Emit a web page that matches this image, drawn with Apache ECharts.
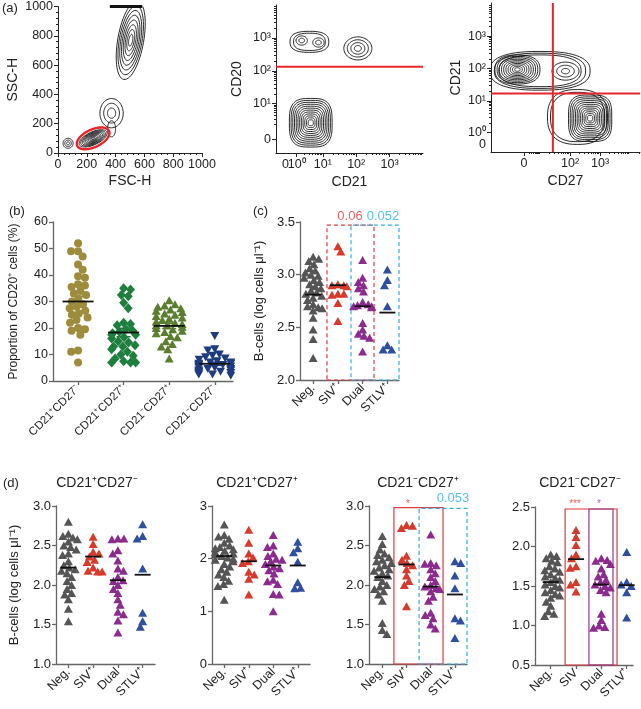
<!DOCTYPE html>
<html><head><meta charset="utf-8">
<script src="https://cdn.jsdelivr.net/npm/echarts@6/dist/echarts.min.js"></script>
<style>html,body{margin:0;padding:0;background:#fff}#c{width:641px;height:709px}</style>
</head><body><div id="c"></div><script>
// ---------------- DATA ----------------
// Panel (a) flow cytometry: tick labels (positions in display units) and populations
const fscTicks = [0, 200, 400, 600, 800, 1000];
const a2XTickPos = [0.22, 1, 2, 3];
const a2XTickText = ['10⁰', '10¹', '10²', '10³'];
const a2XZeroPos = [-0.12];
const a2YTickPos = [-0.09, 1, 2, 3];
const a2YTickText = ['0', '10¹', '10²', '10³'];
const a3XTickPos = [0.47, 2, 3];
const a3XTickText = ['0', '10²', '10³'];
const a3YTickPos = [0.02, 1, 2, 3];
const a3YTickText = ['10⁰', '10¹', '10²', '10³'];
const a3YZeroPos = [-0.34];
// population: [centreX, centreY, radiusX, radiusY, tilt, rings, squareness, innermost ring fraction]
const popsFscSsc = [
  [505, 770, 90, 272, 10, 8, 2, 0.15],
  [372, 272, 81, 100, 0, 3, 2, 0.35],
  [372, 165, 28, 55, 0, 1, 2, 1],
  [244, 100, 105, 44, -25, 9, 2, 0.12],
  [70, 66, 35, 34, 0, 3, 2, 0.3]
];
const gateFscSsc = [[244, 100, 122, 60, -25, 1, 2, 1]];
const saturationFscSsc = [[360, 1000], [585, 1000]];
const popsCd21Cd20 = [
  [0.60, 2.88, 0.58, 0.32, 0, 2, 2.6, 0.82],
  [0.37, 2.92, 0.17, 0.14, 0, 2, 2, 0.5],
  [0.87, 2.86, 0.17, 0.14, 0, 2, 2, 0.5],
  [2.05, 2.68, 0.42, 0.35, 0, 4, 2, 0.25],
  [0.64, 0.42, 0.64, 0.74, 0, 12, 3.2, 0.12]
];
const cd20Gate = 2.12;
const popsCd27Cd21 = [
  [1.0, 1.93, 1.67, 0.60, 0, 3, 2.5, 0.82],
  [0.25, 1.97, 0.75, 0.45, 0, 10, 2.5, 0.12],
  [1.85, 1.92, 0.45, 0.28, 0, 3, 2, 0.3],
  [2.25, 0.50, 1.00, 0.85, 0, 2, 2.5, 0.9],
  [2.67, 0.46, 0.72, 0.72, 0, 12, 3.5, 0.12]
];
const cd21Gate = 1.23;
const cd27Gate = 1.43;

// Panel (b)
const bCategories = ['CD21⁺CD27⁻', 'CD21⁺CD27⁺', 'CD21⁻CD27⁺', 'CD21⁻CD27⁻'];
const bCD21pCD27n = [52, 49, 49, 47, 44, 42, 39.5, 39, 36.5, 36, 35.5, 34, 33, 32.5, 31, 30, 29, 28, 27.5, 26.5, 25.5, 25, 24, 23, 22, 20, 19.5, 19, 17.5, 11.5, 11, 7];
const bCD21pCD27p = [35, 34.5, 32.5, 32, 29.5, 27.5, 22, 21.5, 21, 19.5, 19, 18.5, 18, 17.5, 17.5, 16.5, 16, 15, 14.5, 13.5, 13, 13, 12, 11, 10, 9.5, 8.5, 7.5, 7, 7, 7];
const bCD21nCD27p = [30.5, 29, 28.5, 28, 27.5, 27, 26.5, 26, 25.5, 25, 24.5, 24, 23.5, 23, 22.5, 22, 21.5, 21, 21, 20.5, 20, 19.5, 19, 18.5, 18, 17, 16.5, 15, 14, 13, 12, 8.5];
const bCD21nCD27n = [17, 12, 11.5, 10, 9.5, 9, 8.5, 8, 7.5, 7, 7, 6.5, 6.5, 6, 6, 5.5, 5.5, 5, 5, 4.5, 4.5, 4, 4, 3.5, 3.5, 3, 3, 2.5, 2.5, 2];
const bMeans = [30.0, 18.3, 20.8, 6.5];
const bSEM = [2.0, 1.6, 1.0, 0.6];

// Panel (c) and (d)
const groups = ['Neg.', 'SIV⁺', 'Dual', 'STLV⁺'];
const groupsD4 = ['Neg.', 'SIV', 'Dual', 'STLV⁺'];
const cNeg = [3.17, 3.15, 3.13, 3.10, 3.06, 3.04, 3.02, 3.00, 2.99, 2.97, 2.95, 2.93, 2.91, 2.89, 2.87, 2.85, 2.83, 2.82, 2.80, 2.78, 2.76, 2.72, 2.70, 2.69, 2.68, 2.66, 2.59, 2.48, 2.39, 2.21];
const cSIV = [3.27, 3.22, 2.91, 2.90, 2.90, 2.89, 2.82, 2.82, 2.81, 2.73, 2.56];
const cDual = [3.14, 2.97, 2.93, 2.90, 2.87, 2.84, 2.74, 2.72, 2.71, 2.70, 2.70, 2.69, 2.54, 2.48, 2.44, 2.42, 2.40, 2.27];
const cSTLV = [3.05, 2.95, 2.90, 2.70, 2.33, 2.29, 2.29];
const cMeans = [2.81, 2.90, 2.70, 2.64];

const d1Neg = [2.80, 2.65, 2.62, 2.60, 2.58, 2.55, 2.50, 2.48, 2.45, 2.40, 2.38, 2.30, 2.25, 2.22, 2.20, 2.18, 2.15, 2.10, 2.05, 2.00, 1.95, 1.90, 1.88, 1.82, 1.70, 1.54];
const d1SIV = [2.61, 2.52, 2.42, 2.40, 2.36, 2.32, 2.29, 2.22, 2.18, 2.17, 2.17];
const d1Dual = [2.59, 2.59, 2.58, 2.44, 2.40, 2.31, 2.21, 2.18, 2.10, 2.06, 2.05, 2.00, 1.95, 1.90, 1.82, 1.75, 1.66, 1.63, 1.55, 1.40];
const d1STLV = [2.77, 2.62, 2.59, 2.21, 1.65, 1.54, 1.47];
const d1Means = [2.22, 2.36, 2.06, 2.13];

const d2Neg = [2.65, 2.45, 2.42, 2.38, 2.30, 2.25, 2.22, 2.20, 2.18, 2.15, 2.12, 2.10, 2.08, 2.05, 2.02, 2.00, 1.98, 1.95, 1.90, 1.85, 1.80, 1.75, 1.70, 1.65, 1.58, 1.52, 1.48, 1.22];
const d2SIV = [2.55, 2.30, 2.10, 2.02, 1.95, 1.92, 1.75, 1.70, 1.62, 1.32];
const d2Dual = [2.45, 2.25, 2.22, 2.10, 2.05, 2.00, 1.98, 1.95, 1.90, 1.85, 1.82, 1.78, 1.72, 1.60, 1.57, 1.52, 1.33, 1.32, 1.00];
const d2STLV = [2.32, 2.20, 2.12, 1.94, 1.55, 1.45, 1.44];
const d2Means = [2.05, 1.95, 1.87, 1.87];

const d3Neg = [2.62, 2.52, 2.45, 2.40, 2.38, 2.35, 2.32, 2.30, 2.28, 2.25, 2.22, 2.20, 2.18, 2.15, 2.12, 2.10, 2.05, 2.00, 1.98, 1.95, 1.92, 1.88, 1.80, 1.52, 1.43, 1.38];
const d3SIV = [2.76, 2.75, 2.72, 2.37, 2.32, 2.28, 2.25, 2.20, 2.12, 2.05, 2.00, 1.73];
const d3Dual = [2.64, 2.28, 2.27, 2.25, 2.20, 2.15, 2.10, 2.05, 2.00, 1.98, 1.96, 1.95, 1.92, 1.85, 1.80, 1.65, 1.62, 1.58, 1.50, 1.45];
const d3STLV = [2.30, 2.28, 2.12, 1.96, 1.58, 1.55, 1.33];
const d3Means = [2.10, 2.26, 1.98, 1.88];

const d4Neg = [1.90, 1.88, 1.85, 1.82, 1.80, 1.75, 1.72, 1.70, 1.68, 1.65, 1.62, 1.60, 1.58, 1.55, 1.52, 1.50, 1.48, 1.45, 1.42, 1.40, 1.38, 1.35, 1.30, 1.25, 1.18, 1.15, 1.12];
const d4SIV = [2.21, 2.12, 2.02, 1.90, 1.85, 1.75, 1.73, 1.55, 1.52, 1.43];
const d4Dual = [1.85, 1.83, 1.82, 1.78, 1.72, 1.65, 1.62, 1.58, 1.55, 1.52, 1.50, 1.48, 1.45, 1.42, 1.15, 1.07, 1.00, 0.98, 0.97];
const d4STLV = [1.93, 1.55, 1.52, 1.50, 1.48, 1.42, 1.10];
const d4Means = [1.55, 1.84, 1.52, 1.51];

// ---------------- STYLE / LAYOUT ----------------
const FONT = '"Liberation Sans", Arial, Helvetica, sans-serif';
const TXT = '#222';
const GROUP_COLORS = ['#555555', '#d63a2b', '#8b2b8e', '#2f4e9f'];
const B_COLORS = ['#9d8c3c', '#1e7e3e', '#5b7d2f', '#1e3b82'];
const RED = '#e0393e', CYAN = '#2bb1e0', PURPLE = '#8e3a90', GATE_RED = '#e8242c';

const grids = [
  {left: 58, top: 6, width: 144, height: 147},   // 0 a1
  {left: 276, top: 5, width: 147, height: 148},  // 1 a2
  {left: 491, top: 3, width: 149, height: 149},  // 2 a3
  {left: 53, top: 222, width: 180, height: 159}, // 3 b
  {left: 300, top: 222, width: 99, height: 158}, // 4 c
  {left: 56, top: 506, width: 99, height: 158},  // 5 d1
  {left: 212, top: 506, width: 98, height: 158}, // 6 d2
  {left: 369, top: 506, width: 98, height: 158}, // 7 d3
  {left: 535, top: 507, width: 98, height: 158}  // 8 d4
];

function merge(a, b) {
  const o = Object.assign({}, a);
  for (const k in b) {
    if (b[k] && typeof b[k] === 'object' && !Array.isArray(b[k]) && a[k] && typeof a[k] === 'object' && !Array.isArray(a[k])) o[k] = merge(a[k], b[k]);
    else o[k] = b[k];
  }
  return o;
}
const BASE = {
  type: 'value',
  axisLine: {show: true, onZero: false, lineStyle: {color: '#666', width: 1.3}},
  axisTick: {show: true, inside: false, length: 4, lineStyle: {color: '#666', width: 1.3}},
  axisLabel: {color: TXT, fontSize: 13, fontFamily: FONT, margin: 5, hideOverlap: false},
  splitLine: {show: false},
  nameLocation: 'middle',
  nameTextStyle: {color: TXT, fontSize: 13, fontFamily: FONT}
};
const FLOW = merge(BASE, {axisLine: {lineStyle: {color: '#222', width: 1}}, axisTick: {length: 4, lineStyle: {color: '#222', width: 1}}, axisLabel: {fontSize: 12.5}, nameTextStyle: {fontSize: 14}});
const MINOR = merge(FLOW, {axisLine: {show: false}, axisTick: {length: 2}});

function lookup(pos, txt) { return v => { for (let i = 0; i < pos.length; i++) if (Math.abs(pos[i] - v) < 1e-6) return txt[i]; return ''; }; }
function logMinor(ranges, max) {
  const out = [];
  ranges.forEach(([a, b]) => { for (let k = 2; k <= 9; k++) { const p = a + (b - a) * Math.log10(k); if (p < max) out.push(p); } });
  return out;
}

const xAxes = [], yAxes = [];
// a1
xAxes[0] = merge(FLOW, {gridIndex: 0, min: 0, max: 1000, interval: 200, axisLabel: {formatter: v => String(v)}, minorTick: {show: true, splitNumber: 5, length: 2, lineStyle: {color: '#222'}}, name: 'FSC-H', nameGap: 21});
yAxes[0] = merge(FLOW, {gridIndex: 0, min: 0, max: 1000, interval: 200, axisLabel: {formatter: v => String(v)}, minorTick: {show: true, splitNumber: 5, length: 2, lineStyle: {color: '#222'}}, name: 'SSC-H', nameGap: 38});
// a2
xAxes[1] = merge(FLOW, {gridIndex: 1, position: 'bottom', min: -0.4, max: 4, axisTick: {customValues: a2XTickPos}, axisLabel: {customValues: a2XTickPos, formatter: lookup(a2XTickPos, a2XTickText)}, name: 'CD21', nameGap: 22});
yAxes[1] = merge(FLOW, {gridIndex: 1, position: 'left', min: -0.5, max: 4, axisTick: {customValues: a2YTickPos}, axisLabel: {customValues: a2YTickPos, formatter: lookup(a2YTickPos, a2YTickText)}, name: 'CD20', nameGap: 32});
// a3
xAxes[2] = merge(FLOW, {gridIndex: 2, position: 'bottom', min: -0.63, max: 4.33, axisTick: {customValues: a3XTickPos}, axisLabel: {customValues: a3XTickPos, formatter: lookup(a3XTickPos, a3XTickText)}, name: 'CD27', nameGap: 22});
yAxes[2] = merge(FLOW, {gridIndex: 2, position: 'left', min: -0.585, max: 4.03, axisTick: {customValues: a3YTickPos}, axisLabel: {customValues: a3YTickPos, formatter: lookup(a3YTickPos, a3YTickText)}, name: 'CD21', nameGap: 28});
// b
function catX(gi, min, max, cats, fs) {
  return merge(BASE, {gridIndex: gi, position: 'bottom', min, max, axisTick: {customValues: [0, 1, 2, 3]}, axisLabel: {customValues: [0, 1, 2, 3], rotate: 45, fontSize: fs, margin: 6, formatter: v => cats[Math.round(v)]}});
}
xAxes[3] = catX(3, -0.55, 3.4, bCategories, 11.5);
yAxes[3] = merge(BASE, {gridIndex: 3, position: 'left', min: 0, max: 60, interval: 10, axisLabel: {fontSize: 12.5}, name: 'Proportion of CD20⁺ cells (%)', nameGap: 33, nameTextStyle: {fontSize: 12}});
// c
const yName = 'B-cells (log cells μl⁻¹)';
xAxes[4] = catX(4, -0.53, 3.47, groups, 12.5);
yAxes[4] = merge(BASE, {gridIndex: 4, position: 'left', min: 2, max: 3.5, interval: 0.5, axisLabel: {formatter: v => v.toFixed(1)}, name: yName, nameGap: 34});
// d
xAxes[5] = catX(5, -0.5, 3.5, groups, 12.5);
yAxes[5] = merge(BASE, {gridIndex: 5, position: 'left', min: 1, max: 3, interval: 0.5, axisLabel: {formatter: v => v.toFixed(1)}, name: yName, nameGap: 35});
xAxes[6] = catX(6, -0.5, 3.5, groups, 12.5);
yAxes[6] = merge(BASE, {gridIndex: 6, position: 'left', min: 0, max: 3, interval: 1});
xAxes[7] = catX(7, -0.55, 3.5, groups, 12.5);
yAxes[7] = merge(BASE, {gridIndex: 7, position: 'left', min: 1, max: 3, interval: 0.5, axisLabel: {formatter: v => v.toFixed(1)}});
xAxes[8] = catX(8, -0.62, 3.25, groupsD4, 12.5);
yAxes[8] = merge(BASE, {gridIndex: 8, position: 'left', min: 0.5, max: 2.5, interval: 0.5, axisLabel: {formatter: v => v.toFixed(1)}});
// minor log ticks (and the crowded '0' labels) for a2, a3
xAxes[9] = merge(MINOR, {gridIndex: 1, position: 'bottom', min: -0.4, max: 4, axisTick: {customValues: logMinor([[0.22, 1], [1, 2], [2, 3], [3, 4]], 4)}, axisLabel: {customValues: a2XZeroPos, formatter: () => '0', margin: 5}});
yAxes[9] = merge(MINOR, {gridIndex: 1, position: 'left', min: -0.5, max: 4, axisTick: {customValues: logMinor([[0.1, 1], [1, 2], [2, 3], [3, 4]], 4)}, axisLabel: {show: false}});
xAxes[10] = merge(MINOR, {gridIndex: 2, position: 'bottom', min: -0.63, max: 4.33, axisTick: {customValues: logMinor([[0.47, 1], [1, 2], [2, 3], [3, 4], [4, 5]], 4.33)}, axisLabel: {show: false}});
yAxes[10] = merge(MINOR, {gridIndex: 2, position: 'left', min: -0.585, max: 4.03, axisTick: {customValues: logMinor([[0.02, 1], [1, 2], [2, 3], [3, 4]], 4.03)}, axisLabel: {customValues: a3YZeroPos, formatter: () => '0', margin: 5}});

// ---------------- SERIES HELPERS ----------------
function contourSeries(ai, pops, color, lw) {
  return {
    type: 'custom', xAxisIndex: ai, yAxisIndex: ai, clip: true, silent: true, z: 3,
    data: pops,
    renderItem(params, api) {
      const cx = api.value(0), cy = api.value(1), rx = api.value(2), ry = api.value(3);
      const ang = api.value(4) * Math.PI / 180, n = api.value(5), pw = api.value(6), fmin = api.value(7);
      const c = api.coord([cx, cy]);
      const s = api.size([rx, ry], [cx, cy]);
      const ch = [];
      for (let k = 0; k < n; k++) {
        const f = n === 1 ? 1 : 1 - k * (1 - fmin) / (n - 1);
        const pts = [];
        for (let i = 0; i < 60; i++) {
          const t = i / 60 * 2 * Math.PI, ct = Math.cos(t), st = Math.sin(t);
          const ex = Math.sign(ct) * Math.pow(Math.abs(ct), 2 / pw) * s[0] * f;
          const ey = Math.sign(st) * Math.pow(Math.abs(st), 2 / pw) * s[1] * f;
          pts.push([c[0] + ex * Math.cos(ang) - ey * Math.sin(ang), c[1] + ex * Math.sin(ang) + ey * Math.cos(ang)]);
        }
        ch.push({type: 'polygon', shape: {points: pts}, style: {fill: 'none', stroke: color, lineWidth: lw}});
      }
      return {type: 'group', children: ch};
    }
  };
}
function lineSeries(ai, data, color, w) {
  return {type: 'line', xAxisIndex: ai, yAxisIndex: ai, data, symbol: 'none', silent: true, lineStyle: {color, width: w}, z: 4, clip: true, animation: false};
}
function swarmOffsets(values, pxPerY, diam, maxHalf) {
  const order = values.map((v, i) => i).sort((a, b) => values[b] - values[a]);
  const placed = [], out = new Array(values.length);
  let flip = 1;
  order.forEach(i => {
    const y = values[i] * pxPerY;
    const cands = [0];
    placed.forEach(p => { const dy = Math.abs(p.y - y); if (dy < diam) { const dx = Math.sqrt(diam * diam - dy * dy); cands.push(p.x + dx + 0.01, p.x - dx - 0.01); } });
    cands.sort((a, b) => (Math.abs(a) - Math.abs(b)) || (a - b) * flip);
    let best = 0;
    for (const c of cands) { if (placed.every(p => (p.x - c) ** 2 + (p.y - y) ** 2 >= diam * diam - 0.1)) { best = c; break; } }
    flip = -flip;
    best = Math.max(-maxHalf, Math.min(maxHalf, best));
    placed.push({x: best, y}); out[i] = best;
  });
  return out;
}
function pxScale(gi, ai) {
  const g = grids[gi], xa = xAxes[ai], ya = yAxes[ai];
  return {px: g.width / (xa.max - xa.min), py: g.height / (ya.max - ya.min)};
}
function dotSeries(ai, cat, values, color, symbol, size, rotate, diam, maxHalf) {
  const sc = pxScale(ai, ai);
  const off = swarmOffsets(values, sc.py, diam, maxHalf);
  return {type: 'scatter', xAxisIndex: ai, yAxisIndex: ai, symbol, symbolSize: size, symbolRotate: rotate || 0, silent: true, z: 4,
    itemStyle: {color, opacity: 1}, data: values.map((v, i) => [cat + off[i] / sc.px, v])};
}
function meanSeries(ai, means, halfPx, sems, capPx, capColors) {
  return {type: 'custom', xAxisIndex: ai, yAxisIndex: ai, silent: true, z: 6, clip: false,
    data: means.map((m, i) => [i, m, sems ? sems[i] : 0]),
    renderItem(params, api) {
      const x = api.value(0), m = api.value(1), s = api.value(2), i = params.dataIndex;
      const c = api.coord([x, m]);
      const ch = [];
      if (s > 0) {
        const t = api.coord([x, m + s]), b = api.coord([x, m - s]);
        const col = capColors ? capColors[i] : '#111';
        ch.push({type: 'line', shape: {x1: c[0], y1: t[1], x2: c[0], y2: b[1]}, style: {stroke: col, lineWidth: 1.5}});
        ch.push({type: 'line', shape: {x1: c[0] - capPx, y1: t[1], x2: c[0] + capPx, y2: t[1]}, style: {stroke: col, lineWidth: 1.5}});
        ch.push({type: 'line', shape: {x1: c[0] - capPx, y1: b[1], x2: c[0] + capPx, y2: b[1]}, style: {stroke: col, lineWidth: 1.5}});
      }
      ch.push({type: 'line', shape: {x1: c[0] - halfPx, y1: c[1], x2: c[0] + halfPx, y2: c[1]}, style: {stroke: '#111', lineWidth: 1.8}});
      return {type: 'group', children: ch};
    }};
}
function annotSeries(ai, items) {
  return {type: 'scatter', xAxisIndex: ai, yAxisIndex: ai, clip: false, silent: true, z: 10, symbolSize: 1,
    itemStyle: {color: 'rgba(0,0,0,0)'},
    data: items.map(a => ({value: [a[0], a[1]], label: {show: true, position: 'inside', formatter: a[2], color: a[3], fontSize: a[4], fontFamily: FONT}}))};
}
function box(x0, x1, y0, y1, color, dashed, radius) {
  return [{xAxis: x0, yAxis: y0, itemStyle: {color: 'rgba(0,0,0,0)', borderColor: color, borderWidth: 1.2, borderType: dashed ? [4, 3] : 'solid', borderRadius: radius || 0}}, {xAxis: x1, yAxis: y1}];
}

// ---------------- BUILD ----------------
const series = [];
// (a)
series.push(contourSeries(0, popsFscSsc, '#111', 0.9));
series.push(contourSeries(0, gateFscSsc, GATE_RED, 2.4));
series.push(lineSeries(0, saturationFscSsc, '#111', 3));
series.push(contourSeries(1, popsCd21Cd20, '#111', 0.9));
series.push(lineSeries(1, [[-0.4, cd20Gate], [4, cd20Gate]], GATE_RED, 2));
series.push(contourSeries(2, popsCd27Cd21, '#111', 0.9));
series.push(lineSeries(2, [[-0.63, cd21Gate], [4.33, cd21Gate]], GATE_RED, 2));
series.push(lineSeries(2, [[cd27Gate, -0.585], [cd27Gate, 4.03]], GATE_RED, 2));
// (b)
const bVals = [bCD21pCD27n, bCD21pCD27p, bCD21nCD27p, bCD21nCD27n];
const bSym = [['circle', 8, 0], ['diamond', [9, 10], 0], ['triangle', [9, 8], 0], ['triangle', [9, 8], 180]];
const bSpread = [10, 12, 13, 16];
bVals.forEach((v, i) => series.push(dotSeries(3, i, v, B_COLORS[i], bSym[i][0], bSym[i][1], bSym[i][2], 7, bSpread[i])));
series.push(meanSeries(3, bMeans, 15.5, bSEM, 7, B_COLORS));
// (c) and (d)
const cdPanels = [
  {ai: 4, vals: [cNeg, cSIV, cDual, cSTLV], means: cMeans,
    boxes: [box(0.56, 2.46, 2.0, 3.47, RED, true), box(1.53, 3.47, 2.0, 3.47, CYAN, true)],
    notes: [[1.49, 3.55, '0.06', RED, 13], [2.82, 3.55, '0.052', CYAN, 13]]},
  {ai: 5, vals: [d1Neg, d1SIV, d1Dual, d1STLV], means: d1Means, boxes: [], notes: []},
  {ai: 6, vals: [d2Neg, d2SIV, d2Dual, d2STLV], means: d2Means, boxes: [], notes: []},
  {ai: 7, vals: [d3Neg, d3SIV, d3Dual, d3STLV], means: d3Means,
    boxes: [box(0.48, 2.51, 1.0, 2.98, RED, false, 4), box(1.52, 3.5, 1.0, 2.97, CYAN, true)],
    notes: [[1.06, 3.02, '*', RED, 11], [2.92, 3.10, '0.053', CYAN, 13]]},
  {ai: 8, vals: [d4Neg, d4SIV, d4Dual, d4STLV], means: d4Means,
    boxes: [box(0.57, 2.62, 0.5, 2.475, RED, false, 4), box(1.51, 2.46, 0.5, 2.475, PURPLE, false, 4)],
    notes: [[0.96, 2.53, '***', RED, 10], [1.91, 2.53, '*', PURPLE, 10]]}
];
cdPanels.forEach(p => {
  p.vals.forEach((v, i) => {
    const s = dotSeries(p.ai, i, v, GROUP_COLORS[i], 'triangle', [9, 8], 0, 6, 9);
    if (i === 0 && p.boxes.length) s.markArea = {silent: true, label: {show: false}, data: p.boxes};
    series.push(s);
  });
  series.push(meanSeries(p.ai, p.means, 8, null, 0));
  if (p.notes.length) series.push(annotSeries(p.ai, p.notes));
});

// texts
const labels = [
  ['(a)', 2, 8, 13, 'left'], ['(b)', 9, 211, 13, 'left'], ['(c)', 253, 211, 13, 'left'], ['(d)', 3, 483, 13, 'left'],
  ['CD21⁺CD27⁻', 97, 483, 14, 'center'], ['CD21⁺CD27⁺', 257, 483, 14, 'center'],
  ['CD21⁻CD27⁺', 418, 483, 14, 'center'], ['CD21⁻CD27⁻', 580, 483, 14, 'center']
];
const graphic = labels.map(l => ({type: 'text', x: l[1], y: l[2], silent: true,
  style: {text: l[0], fontSize: l[3], fontFamily: FONT, fill: TXT, align: l[4], textAlign: l[4], verticalAlign: 'middle', textVerticalAlign: 'middle'}}));

const chart = echarts.init(document.getElementById('c'), null, {renderer: 'canvas'});
chart.setOption({
  animation: false,
  backgroundColor: '#fff',
  textStyle: {fontFamily: FONT},
  grid: grids.map(g => Object.assign({containLabel: false}, g)),
  xAxis: xAxes,
  yAxis: yAxes,
  series,
  graphic
});
</script></body></html>
